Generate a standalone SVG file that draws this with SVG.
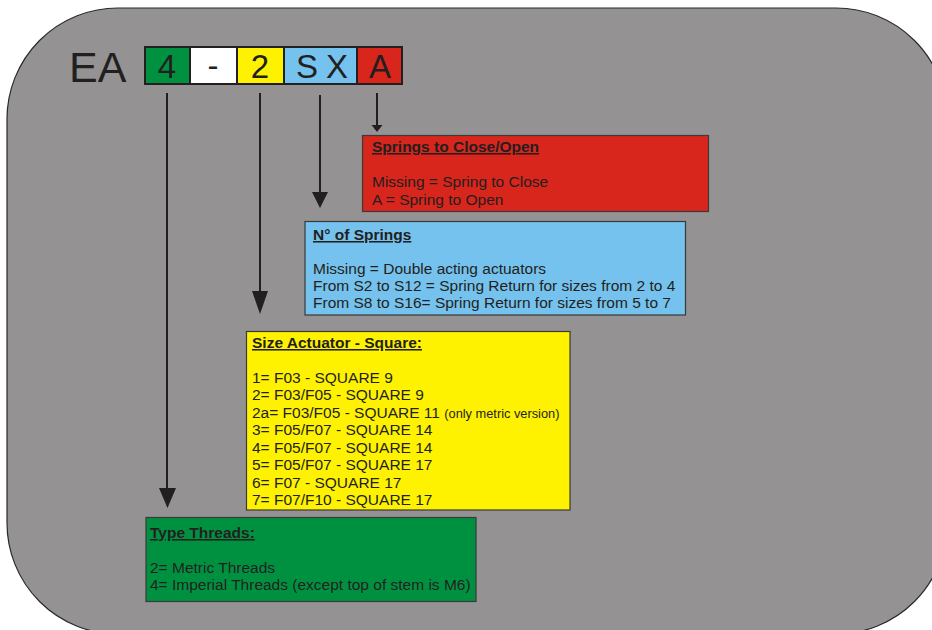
<svg xmlns="http://www.w3.org/2000/svg" width="932" height="630" viewBox="0 0 932 630">
<style>
.t{font-family:"Liberation Sans",Arial,sans-serif;font-size:15.5px;fill:#231f20}
.b{font-weight:bold;text-decoration:underline}
.s{font-size:12.8px}
.c{font-family:"Liberation Sans",Arial,sans-serif;font-size:33px;fill:#231f20;text-anchor:middle}
.box{stroke:#3a3a3a;stroke-width:1.2}
.cb{stroke:#231f20;stroke-width:2}
.ln{stroke:#231f20;stroke-width:2;fill:none}
.ah{fill:#231f20}
</style>
<rect id="background" x="7" y="8" width="940" height="626" rx="111" ry="111" fill="#949292" stroke="#2a2a2a" stroke-width="1.2"/>
<g id="code">
<text class="t" x="69" y="82" style="font-size:43px">EA</text>
<rect class="cb" x="145" y="47" width="45" height="37" fill="#009140"/>
<rect class="cb" x="190" y="47" width="47" height="37" fill="#ffffff"/>
<rect class="cb" x="237" y="47" width="47" height="37" fill="#fff200"/>
<rect class="cb" x="284" y="47" width="73" height="37" fill="#74c2ed"/>
<rect class="cb" x="357" y="47" width="45" height="37" fill="#d9261c"/>
<text class="c" x="167" y="78">4</text>
<text class="c" x="213" y="77">-</text>
<text class="c" x="260" y="78">2</text>
<text class="c" x="307" y="78">S</text>
<text class="c" x="337" y="78">X</text>
<text class="c" x="380" y="78">A</text>
</g>
<g id="connectors">
<line class="ln" x1="167" y1="93" x2="167" y2="492"/>
<path class="ah" d="M159,488 L176,488 L167.5,508 Z"/>
<line class="ln" x1="260" y1="93" x2="260" y2="295"/>
<path class="ah" d="M252,291 L268,291 L260,314 Z"/>
<line class="ln" x1="320" y1="95" x2="320" y2="195"/>
<path class="ah" d="M312,192 L328,192 L320,208 Z"/>
<line class="ln" x1="377" y1="93" x2="377" y2="127"/>
<path class="ah" d="M371.5,125 L382.5,125 L377,132 Z"/>
</g>
<g id="springs-close-open">
<rect class="box" x="362.5" y="135.5" width="346" height="76" fill="#d9261c"/>
<text class="t b" x="372" y="152">Springs to Close/Open</text>
<text class="t" x="372" y="187">Missing = Spring to Close</text>
<text class="t" x="372" y="205">A = Spring to Open</text>
</g>
<g id="number-of-springs">
<rect class="box" x="305" y="221.5" width="380.5" height="93.5" fill="#74c2ed"/>
<text class="t b" x="313" y="240">N° of Springs</text>
<text class="t" x="313" y="274">Missing = Double acting actuators</text>
<text class="t" x="313" y="291">From S2 to S12 = Spring Return for sizes from 2 to 4</text>
<text class="t" x="313" y="308">From S8 to S16= Spring Return for sizes from 5 to 7</text>
</g>
<g id="size-actuator">
<rect class="box" x="246.5" y="331.5" width="323.5" height="178.5" fill="#fff200"/>
<text class="t b" x="252" y="348">Size Actuator - Square:</text>
<text class="t" x="252" y="383">1= F03 - SQUARE 9</text>
<text class="t" x="252" y="400">2= F03/F05 - SQUARE 9</text>
<text class="t" x="252" y="418">2a= F03/F05 - SQUARE 11 <tspan class="s">(only metric version)</tspan></text>
<text class="t" x="252" y="435">3= F05/F07 - SQUARE 14</text>
<text class="t" x="252" y="453">4= F05/F07 - SQUARE 14</text>
<text class="t" x="252" y="470">5= F05/F07 - SQUARE 17</text>
<text class="t" x="252" y="488">6= F07 - SQUARE 17</text>
<text class="t" x="252" y="505">7= F07/F10 - SQUARE 17</text>
</g>
<g id="type-threads">
<rect class="box" x="146" y="517.5" width="330" height="84" fill="#009140"/>
<text class="t b" x="150" y="538">Type Threads:</text>
<text class="t" x="150" y="573">2= Metric Threads</text>
<text class="t" x="150" y="590">4= Imperial Threads (except top of stem is M6)</text>
</g>
</svg>
